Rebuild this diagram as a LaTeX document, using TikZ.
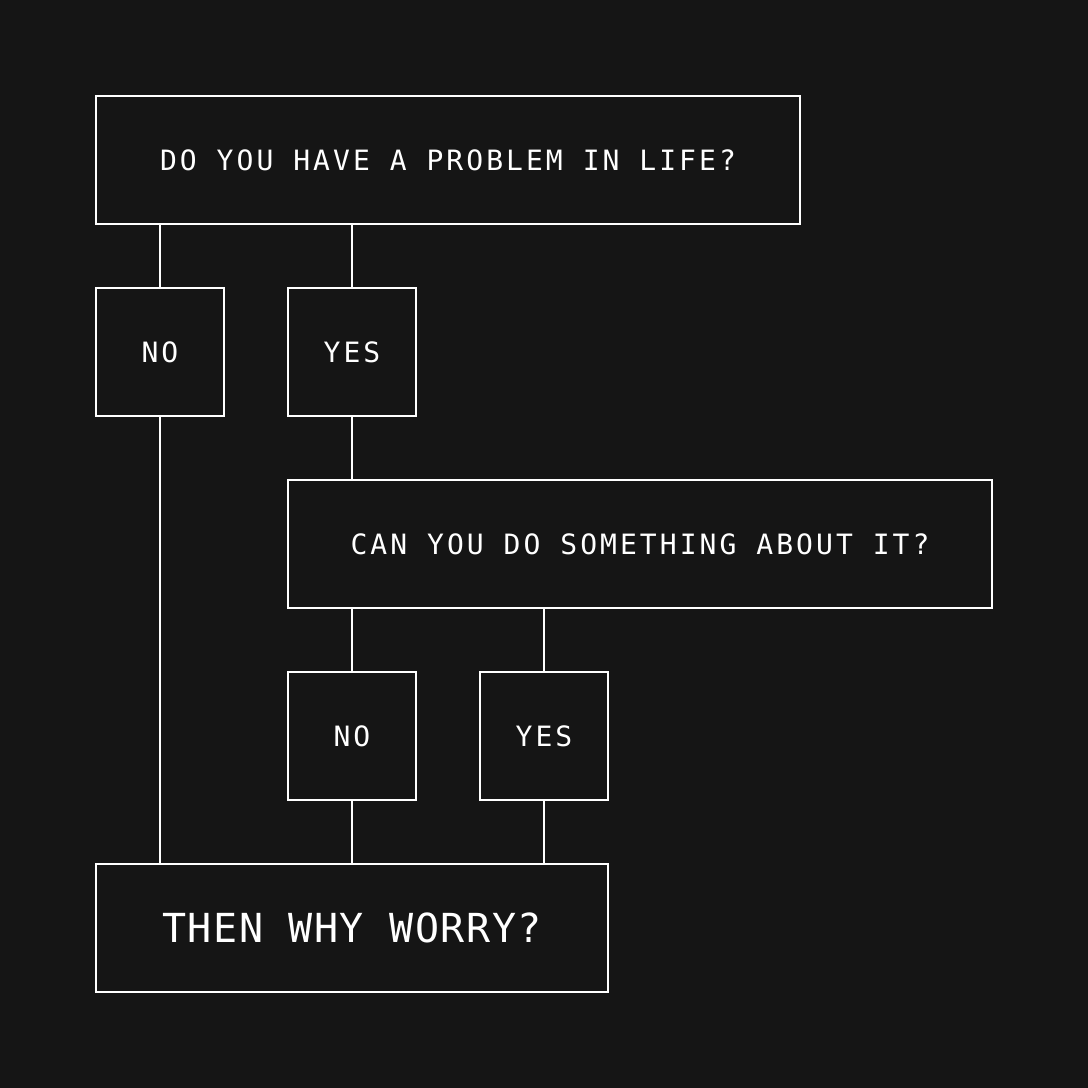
\documentclass[tikz,border=0pt]{standalone}
\usepackage{fontspec}
\newfontfamily\flowfont[LetterSpace=10.9]{DejaVu Sans Mono}
\newfontfamily\bigflowfont[LetterSpace=3.8]{DejaVu Sans Mono}
\definecolor{bg}{HTML}{151515}
\begin{document}
\begin{tikzpicture}[x=1pt,y=-1pt,
  box/.style={draw=white,line width=1.5pt,rectangle,inner sep=0pt,text=white,
    font=\flowfont\fontsize{28pt}{30pt}\selectfont},
  bigbox/.style={box,font=\bigflowfont\fontsize{40pt}{42pt}\selectfont},
  link/.style={draw=white,line width=1.5pt}]
\fill[bg] (0,0) rectangle (1088,1088);
\useasboundingbox (0,0) rectangle (1088,1088);
\node[box,minimum width=704pt,minimum height=128pt] (q1) at (448,160) {DO YOU HAVE A PROBLEM IN LIFE?};
\node[box,minimum width=128pt,minimum height=128pt] (no1) at (160,352) {NO};
\node[box,minimum width=128pt,minimum height=128pt] (yes1) at (352,352) {YES};
\node[box,minimum width=704pt,minimum height=128pt] (q2) at (640,544) {CAN YOU DO SOMETHING ABOUT IT?};
\node[box,minimum width=128pt,minimum height=128pt] (no2) at (352,736) {NO};
\node[box,minimum width=128pt,minimum height=128pt] (yes2) at (544,736) {YES};
\node[bigbox,minimum width=512pt,minimum height=128pt] (end) at (352,928) {THEN WHY WORRY?};
\draw[link] (no1.north |- q1.south) -- (no1.north);
\draw[link] (yes1.north |- q1.south) -- (yes1.north);
\draw[link] (yes1.south) -- (yes1.south |- q2.north);
\draw[link] (no2.north |- q2.south) -- (no2.north);
\draw[link] (yes2.north |- q2.south) -- (yes2.north);
\draw[link] (no1.south) -- (no1.south |- end.north);
\draw[link] (no2.south) -- (no2.south |- end.north);
\draw[link] (yes2.south) -- (yes2.south |- end.north);
\end{tikzpicture}
\end{document}
